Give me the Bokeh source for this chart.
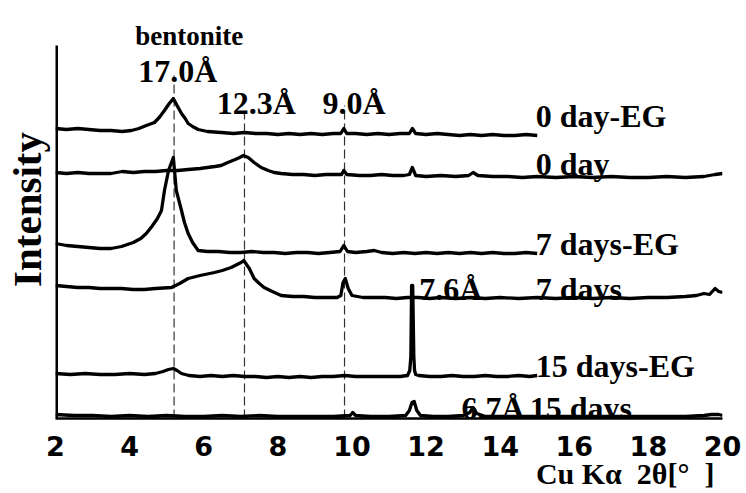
from bokeh.plotting import figure
from bokeh.models import Range1d, Label, FixedTicker, Title
from bokeh.embed import file_html
from bokeh.resources import INLINE

# ---- data (2theta in degrees, intensity in arbitrary offset units) ----
x_0d_eg = [2.0, 2.3, 2.6, 2.9, 3.2, 3.5, 3.8, 4.05, 4.25, 4.45, 4.67, 4.8, 4.94, 5.05, 5.18, 5.28, 5.4,
           5.5, 5.58, 5.7, 5.85, 6.1, 6.47, 6.8, 7.1, 7.4, 7.7, 8.0, 8.3, 8.6, 8.9, 9.2, 9.5, 9.7,
           9.78, 9.86, 10.1, 10.4, 10.7, 11.0, 11.3, 11.55, 11.63, 11.72, 12.0, 12.3, 12.6, 12.9,
           13.2, 13.5, 13.8, 14.1, 14.4, 14.7, 15.0]
y_0d_eg = [290, 289, 290, 289, 288, 288, 287, 288, 290, 293, 296, 301, 308, 314, 320, 313, 305,
           300, 295, 292, 289, 287, 286, 285, 286, 285, 285, 284, 285, 284, 285, 284, 285, 285,
           290, 285, 285, 284, 285, 284, 285, 285, 290, 285, 284, 285, 284, 283,
           284, 283, 284, 283, 283, 284, 283]

x_0d = [2.0, 2.3, 2.6, 2.9, 3.2, 3.5, 3.8, 4.1, 4.4, 4.7, 5.0, 5.3, 5.58, 5.9, 6.1, 6.3, 6.47,
        6.65, 6.85, 6.97, 7.07, 7.2, 7.36, 7.55, 7.74, 7.9, 8.09, 8.4, 8.7, 9.0, 9.3, 9.6, 9.72,
        9.78, 9.86, 10.2, 10.5, 10.8, 11.1, 11.4, 11.55, 11.63, 11.72, 12.0, 12.4, 12.8, 13.15,
        13.27, 13.4, 13.8, 14.2, 14.6, 15.0, 15.5, 16.0, 16.5, 17.0, 17.5, 18.0, 18.5, 19.0,
        19.5, 19.8, 20.0]
y_0d = [246, 245, 246, 245, 245, 245, 247, 246, 247, 247, 248, 248, 249, 250, 251, 252, 253,
        256, 259, 261, 263, 261, 256, 251, 248, 246, 245, 244, 244, 243, 244, 244, 244,
        248, 244, 243, 243, 244, 243, 243, 244, 251, 243, 242, 243, 242, 243,
        246, 243, 242, 242, 241, 242, 241, 242, 241, 242, 241, 241, 242, 241,
        242, 244, 245]

x_7d_eg = [2.0, 2.3, 2.6, 2.9, 3.2, 3.5, 3.78, 4.1, 4.3, 4.45, 4.6, 4.75, 4.86, 4.94, 5.05,
           5.18, 5.26, 5.33, 5.40, 5.48, 5.58, 5.7, 5.85, 6.1, 6.4, 6.7, 7.0, 7.3, 7.6, 7.9,
           8.2, 8.5, 8.8, 9.1, 9.4, 9.68, 9.78, 9.88, 10.1, 10.4, 10.6, 10.8, 11.1, 11.4, 11.7,
           12.0, 12.3, 12.6, 12.9, 13.2, 13.5, 13.8, 14.1, 14.4, 14.7, 15.0]
y_7d_eg = [175, 173, 172, 171, 170, 170, 172, 176, 180, 185, 192, 200, 208, 228, 248,
           261, 228, 218, 208, 196, 185, 176, 168, 167, 167, 166, 166, 167, 166, 166,
           165, 166, 166, 165, 166, 167, 173, 167, 166, 167, 168, 166, 165, 166, 165,
           166, 165, 166, 165, 166, 165, 166, 165, 165, 166, 165]

x_7d = [2.0, 2.3, 2.6, 2.9, 3.2, 3.5, 3.78, 4.1, 4.4, 4.7, 5.13, 5.35, 5.58, 5.9, 6.29, 6.5,
        6.74, 6.9, 7.01, 7.08, 7.23, 7.36, 7.5, 7.63, 7.85, 8.09, 8.4, 8.7, 9.0, 9.3, 9.6, 9.7,
        9.76, 9.82, 9.9, 10.0, 10.3, 10.6, 10.9, 11.2, 11.5, 11.8, 12.1, 12.4, 12.8, 13.2, 13.6,
        14.0, 14.5, 15.0, 15.5, 16.0, 16.5, 17.0, 17.5, 18.0, 18.5, 19.0, 19.3, 19.5, 19.65,
        19.8, 19.9, 20.0]
y_7d = [133, 132, 131, 131, 130, 130, 130, 129, 129, 130, 131, 135, 140, 143, 146, 148,
        151, 154, 156, 158, 150, 140, 135, 131, 127, 123, 122, 122, 121, 121, 121, 123,
        136, 140, 130, 123, 121, 121, 121, 120, 121, 121, 120, 121, 120, 121, 120,
        121, 120, 121, 120, 121, 120, 121, 120, 121, 121, 122, 123, 125, 124,
        130, 127, 126]

x_15d_eg = [2.0, 2.4, 2.8, 3.2, 3.6, 4.0, 4.4, 4.7, 4.9, 5.05, 5.18, 5.28, 5.4, 5.6, 5.9, 6.2,
            6.5, 6.8, 7.1, 7.4, 7.7, 8.0, 8.3, 8.6, 8.9, 9.2, 9.5, 9.8, 10.1, 10.4, 10.7, 11.0,
            11.3, 11.5, 11.56, 11.59, 11.61, 11.64, 11.67, 11.69, 11.72, 11.8, 12.1, 12.4,
            12.7, 13.0, 13.3, 13.6, 13.9, 14.2, 14.5, 14.8, 15.0]
y_15d_eg = [45, 44, 45, 44, 44, 45, 44, 45, 47, 49, 50, 48, 45, 43, 42, 43,
            42, 43, 42, 42, 41, 42, 41, 42, 41, 42, 42, 43, 42, 42, 42, 42,
            42, 43, 48, 62, 133, 133, 62, 48, 44, 43, 42, 42,
            43, 42, 42, 43, 42, 42, 43, 42, 43]

x_15d = [2.0, 2.5, 3.0, 3.5, 4.0, 4.5, 5.0, 5.5, 6.0, 6.5, 7.0, 7.5, 8.0, 8.5, 9.0, 9.5,
         9.95, 10.02, 10.1, 10.5, 11.0, 11.45, 11.55, 11.62, 11.68, 11.75, 11.85, 12.2, 12.6,
         13.0, 13.18, 13.27, 13.37, 13.6, 14.0, 14.5, 15.0, 15.5, 16.0, 16.5, 17.0, 17.5, 18.0,
         18.5, 19.0, 19.5, 19.7, 19.9, 20.0]
y_15d = [4, 3, 3, 2, 3, 2, 3, 2, 2, 3, 2, 3, 2, 2, 2, 2,
         3, 6, 3, 2, 2, 3, 8, 16, 17, 8, 3, 2, 2,
         3, 6, 11, 5, 2, 2, 2, 2, 2, 2, 2, 2, 2, 2,
         2, 2, 3, 4, 4, 3]

series = [
    (x_0d_eg, y_0d_eg), (x_0d, y_0d), (x_7d_eg, y_7d_eg),
    (x_7d, y_7d), (x_15d_eg, y_15d_eg), (x_15d, y_15d),
]
series_names = ["0 day-EG", "0 day", "7 days-EG", "7 days", "15 days-EG", "15 days"]

peak_positions = [5.2, 7.1, 9.8]           # dashed reference lines (2theta)
peak_labels = ["17.0Å", "12.3Å", "9.0Å"]
extra_peaks = [(12.67, "7.6Å"), (13.81, "6.7Å")]
x_ticks = [2, 4, 6, 8, 10, 12, 14, 16, 18, 20]

# ---- figure ----
p = figure(width=746, height=493, output_backend="svg", toolbar_location=None,
           x_range=Range1d(2, 20), y_range=Range1d(0, 418),
           min_border_left=54, min_border_right=24, min_border_top=0, min_border_bottom=75)
p.background_fill_color = "white"
p.border_fill_color = "white"
p.outline_line_color = None
p.xgrid.visible = False
p.ygrid.visible = False

p.xaxis.ticker = FixedTicker(ticks=x_ticks)
p.xaxis.major_tick_out = 0
p.xaxis.major_tick_in = 0
p.xaxis.minor_tick_out = 0
p.xaxis.minor_tick_in = 0
p.xaxis.axis_line_width = 2.5
p.xaxis.axis_line_color = "black"
p.xaxis.major_label_text_font = "DejaVu Sans"
p.xaxis.major_label_text_font_style = "bold"
p.xaxis.major_label_text_font_size = "27px"
p.xaxis.major_label_text_color = "black"
p.xaxis.major_label_standoff = 17

p.yaxis.ticker = FixedTicker(ticks=[])
p.yaxis.major_tick_out = 0
p.yaxis.major_tick_in = 0
p.yaxis.minor_tick_out = 0
p.yaxis.minor_tick_in = 0
p.yaxis.major_label_standoff = 0
p.yaxis.axis_line_color = None
p.yaxis.axis_label = "Intensity"
p.yaxis.axis_label_text_font = "Liberation Serif"
p.yaxis.axis_label_text_font_style = "bold"
p.yaxis.axis_label_text_font_size = "41px"
p.yaxis.axis_label_text_color = "black"
p.yaxis.axis_label_standoff = 6

# left axis line only up to the top of the data area
p.segment(x0=[2], y0=[0], x1=[2], y1=[373], line_color="black", line_width=5)

# x-axis title, right aligned under the axis
xt = Title(text="Cu Kα \u00a02θ[° \u00a0]", align="right", text_font="Liberation Serif",
           text_font_style="bold", text_font_size="30px", text_color="black",
           standoff=-8, offset=8)
p.add_layout(xt, "below")

# dashed reference lines
dash_tops = [343, 306, 313]
p.segment(x0=peak_positions, y0=[0, 0, 0], x1=peak_positions, y1=dash_tops,
          line_color="#333333", line_width=1.2, line_dash="9 4")

for xs, ys in series:
    p.line(xs, ys, line_color="black", line_width=3.3, line_join="round")

serif = "Liberation Serif"


def add_label(x, y, text, size, align="left"):
    p.add_layout(Label(x=x, y=y, text=text, text_font=serif, text_font_style="bold",
                       text_font_size=size, text_color="black", text_align=align,
                       text_baseline="alphabetic"))


# peak labels
add_label(5.61, 383, "bentonite", "27px", "center")
add_label(5.30, 348, peak_labels[0], "32px", "center")
add_label(7.42, 316, peak_labels[1], "32px", "center")
add_label(10.06, 316, peak_labels[2], "32px", "center")
for xp, t in extra_peaks:
    yb = 130 if t == "7.6Å" else 11
    add_label(xp, yb, t, "32px", "center")

# series names
name_pos = [(14.96, 303), (14.96, 255), (14.96, 175), (14.96, 130), (14.96, 53), (14.80, 11)]
for (xn, yn), name in zip(name_pos, series_names):
    add_label(xn, yn, name, "32px", "left")

open("out.html", "w").write(file_html(p, INLINE))
